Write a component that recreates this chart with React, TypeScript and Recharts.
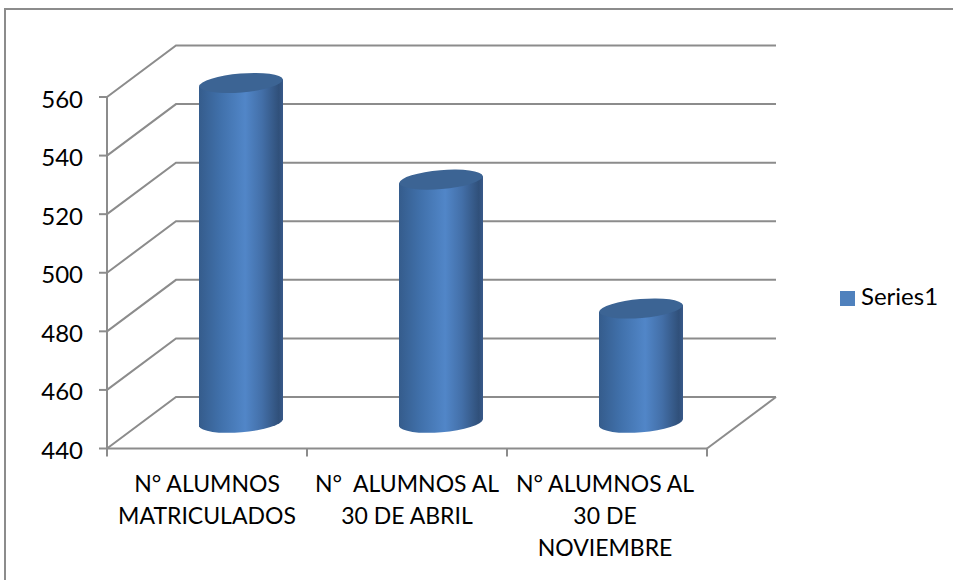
import { BarChart, Bar, XAxis, YAxis, CartesianGrid, Legend } from 'recharts'

const categories = ['N° ALUMNOS MATRICULADOS', 'N°  ALUMNOS AL 30 DE ABRIL', 'N° ALUMNOS AL 30 DE NOVIEMBRE']
const categoryLines = [
  ['N° ALUMNOS', 'MATRICULADOS'],
  ['N°  ALUMNOS AL', '30 DE ABRIL'],
  ['N° ALUMNOS AL', '30 DE', 'NOVIEMBRE'],
]
const series1 = [556, 523, 479]
const yTicks = [440, 460, 480, 500, 520, 540, 560]

const data = categories.map((name, i) => ({ name, Series1: series1[i] }))

const FONT = 'Lato, sans-serif'
const GRID = '#8c8c8c'
const INK = '#000'
// depth of the fake 3d box, back wall relative to the front axes
const DEPTH_X = 69
const DEPTH_Y = -51.5
const BAND = 200

function WallLine({ x1, x2, y1 }: any) {
  const isFloor = y1 > 440
  return (
    <g>
      <polyline
        points={`${x1},${y1} ${x1 + DEPTH_X},${y1 + DEPTH_Y} ${x2 + DEPTH_X},${y1 + DEPTH_Y}`}
        fill="none"
        stroke={GRID}
        strokeWidth={2}
      />
      {isFloor && (
        <line x1={x2} y1={y1} x2={x2 + DEPTH_X} y2={y1 + DEPTH_Y} stroke={GRID} strokeWidth={2} />
      )}
    </g>
  )
}

function Cylinder({ x, y, width, height }: any) {
  const left = x + 34
  const right = left + width
  const top = y + DEPTH_Y / 2
  const base = top + height
  const tilt = 3.5
  const rx = width / 2 + 0.2
  const ry = 10
  const rot = -4.8
  return (
    <g>
      <path
        d={`M${left},${top + tilt} L${left},${base + tilt} A${rx},${ry} ${rot} 0 0 ${right},${base - tilt} L${right},${top - tilt} Z`}
        fill="url(#cyl)"
      />
      <path
        d={`M${left},${top + tilt} A${rx},${ry} ${rot} 0 1 ${right},${top - tilt} A${rx},${ry} ${rot} 0 1 ${left},${top + tilt} Z`}
        fill="#3c6494"
      />
    </g>
  )
}

// ticks sit on the band edges in the original, labels on the band centre
function CategoryTick({ x, y, index }: any) {
  const labelX = index === 2 ? x - 2 : x
  return (
    <g>
      <line x1={x - BAND / 2} y1={y - 8} x2={x - BAND / 2} y2={y} stroke={GRID} strokeWidth={2} />
      {index === categories.length - 1 && (
        <line x1={x + BAND / 2} y1={y - 8} x2={x + BAND / 2} y2={y} stroke={GRID} strokeWidth={2} />
      )}
      <text x={labelX} y={y + 35} textAnchor="middle" fontSize={23} fontFamily={FONT} fill={INK}>
        {categoryLines[index].map((line, i) => (
          <tspan key={i} x={labelX} dy={i === 0 ? 0 : 32} xmlSpace="preserve">
            {line}
          </tspan>
        ))}
      </text>
    </g>
  )
}

export default function App() {
  return (
    <div style={{ position: 'absolute', left: 0, top: 0, width: 953, height: 580, overflow: 'hidden', background: '#fff' }}>
      <div
        style={{
          position: 'absolute',
          left: 4,
          top: 8,
          width: 960,
          height: 590,
          borderLeft: '2px solid #8c8c8c',
          borderTop: '2px solid #8c8c8c',
        }}
      />
      <div style={{ position: 'absolute', left: 0, top: 0 }}>
        <BarChart
          width={953}
          height={580}
          data={data}
          barSize={84}
          margin={{ top: 97, right: 246, bottom: 71.5, left: 37 }}
        >
          <defs>
            <linearGradient id="cyl" x1="0" y1="0" x2="1" y2="0">
              <stop offset="0%" stopColor="#355c8c" />
              <stop offset="25%" stopColor="#4070aa" />
              <stop offset="55%" stopColor="#5186c8" />
              <stop offset="75%" stopColor="#436fa8" />
              <stop offset="95%" stopColor="#30507a" />
              <stop offset="100%" stopColor="#38598a" />
            </linearGradient>
          </defs>
          <CartesianGrid horizontal={(props: any) => <WallLine key={props.key} {...props} />} vertical={false} />
          <XAxis
            dataKey="name"
            height={60}
            interval={0}
            tick={<CategoryTick />}
            axisLine={{ stroke: GRID, strokeWidth: 2 }}
            tickLine={false}
            tickSize={8}
            tickMargin={0}
            scale="band"
          />
          <YAxis
            width={70}
            domain={[440, 560]}
            ticks={yTicks}
            interval={0}
            tick={{ fontSize: 24, fontFamily: FONT, fill: INK, dy: 2 }}
            axisLine={{ stroke: GRID, strokeWidth: 2 }}
            tickLine={{ stroke: GRID, strokeWidth: 2 }}
            tickSize={8}
            tickMargin={16}
          />
          <Legend
            layout="vertical"
            align="center"
            verticalAlign="middle"
            iconType="square"
            iconSize={15}
            wrapperStyle={{ left: 840, top: 281, width: 112, fontFamily: FONT, fontSize: 24 }}
            formatter={(value: string) => <span style={{ color: INK, marginLeft: 2 }}>{value}</span>}
          />
          <Bar dataKey="Series1" fill="#4f81bd" shape={<Cylinder />} isAnimationActive={false} />
        </BarChart>
      </div>
    </div>
  )
}
